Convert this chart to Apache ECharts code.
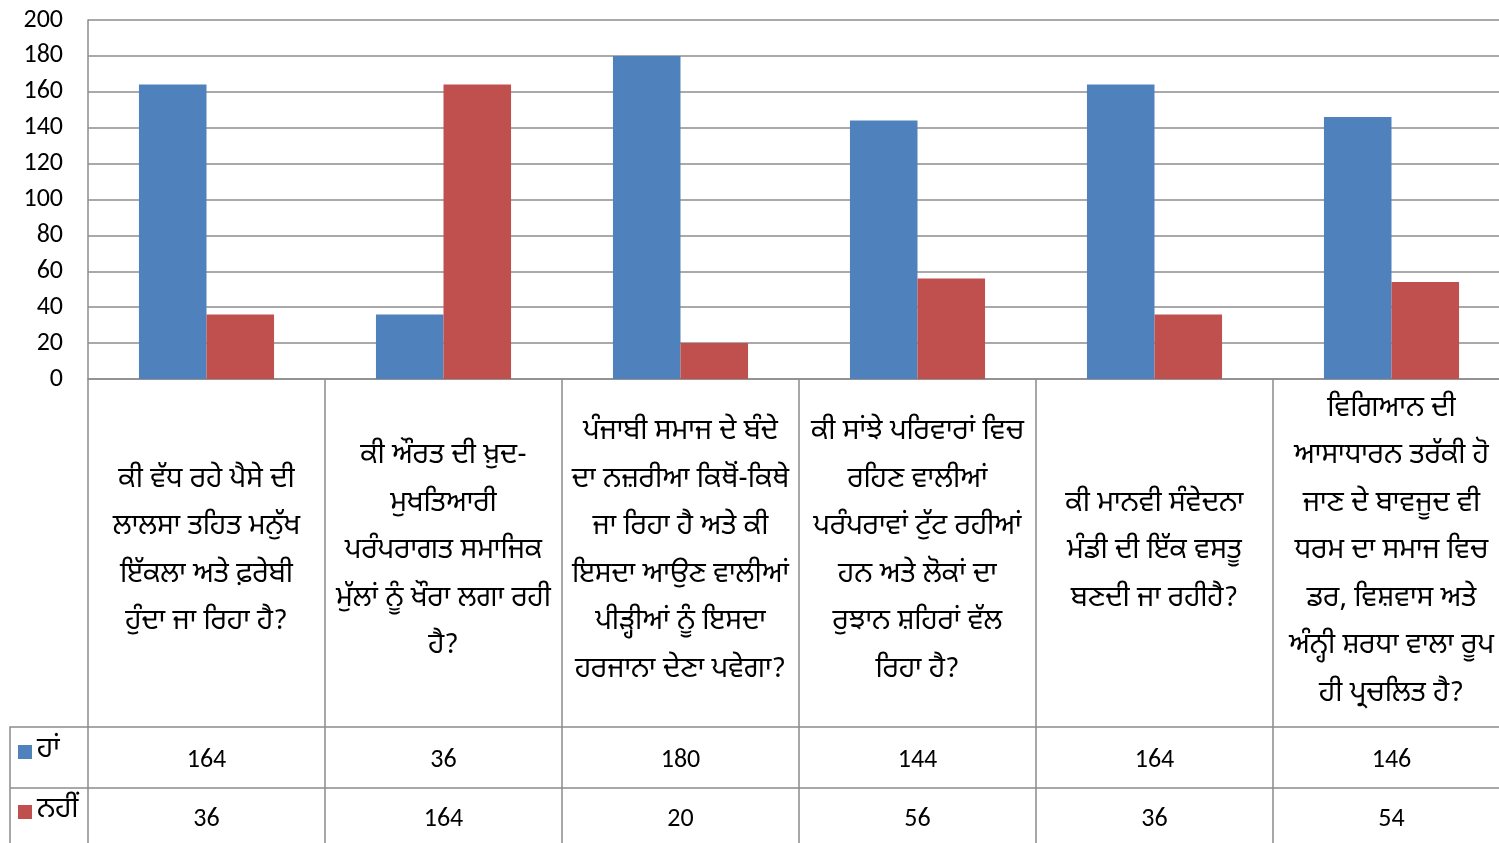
<!DOCTYPE html>
<html>
<head>
<meta charset="utf-8">
<script src="https://cdn.jsdelivr.net/npm/echarts@6/dist/echarts.min.js"></script>
<style>
  html,body{margin:0;padding:0;background:#fff;}
  #chart{width:1499px;height:843px;}
</style>
</head>
<body>
<div id="chart"></div>
<script>
(function(){
  // ===== Dados =====
  const categories = [
    "ਕੀ ਵੱਧ ਰਹੇ ਪੈਸੇ ਦੀ\nਲਾਲਸਾ ਤਹਿਤ ਮਨੁੱਖ\nਇੱਕਲਾ ਅਤੇ ਫ਼ਰੇਬੀ\nਹੁੰਦਾ ਜਾ ਰਿਹਾ ਹੈ?",
    "ਕੀ ਔਰਤ ਦੀ ਖ਼ੁਦ-\nਮੁਖਤਿਆਰੀ\nਪਰੰਪਰਾਗਤ ਸਮਾਜਿਕ\nਮੁੱਲਾਂ ਨੂੰ ਖੌਰਾ ਲਗਾ ਰਹੀ\nਹੈ?",
    "ਪੰਜਾਬੀ ਸਮਾਜ ਦੇ ਬੰਦੇ\nਦਾ ਨਜ਼ਰੀਆ ਕਿਥੋਂ-ਕਿਥੇ\nਜਾ ਰਿਹਾ ਹੈ ਅਤੇ ਕੀ\nਇਸਦਾ ਆਉਣ ਵਾਲੀਆਂ\nਪੀੜ੍ਹੀਆਂ ਨੂੰ ਇਸਦਾ\nਹਰਜਾਨਾ ਦੇਣਾ ਪਵੇਗਾ?",
    "ਕੀ ਸਾਂਝੇ ਪਰਿਵਾਰਾਂ ਵਿਚ\nਰਹਿਣ ਵਾਲੀਆਂ\nਪਰੰਪਰਾਵਾਂ ਟੁੱਟ ਰਹੀਆਂ\nਹਨ ਅਤੇ ਲੋਕਾਂ ਦਾ\nਰੁਝਾਨ ਸ਼ਹਿਰਾਂ ਵੱਲ\nਰਿਹਾ ਹੈ?",
    "ਕੀ ਮਾਨਵੀ ਸੰਵੇਦਨਾ\nਮੰਡੀ ਦੀ ਇੱਕ ਵਸਤੂ\nਬਣਦੀ ਜਾ ਰਹੀਹੈ?",
    "ਵਿਗਿਆਨ ਦੀ\nਆਸਾਧਾਰਨ ਤਰੱਕੀ ਹੋ\nਜਾਣ ਦੇ ਬਾਵਜੂਦ ਵੀ\nਧਰਮ ਦਾ ਸਮਾਜ ਵਿਚ\nਡਰ, ਵਿਸ਼ਵਾਸ ਅਤੇ\nਅੰਨ੍ਹੀ ਸ਼ਰਧਾ ਵਾਲਾ ਰੂਪ\nਹੀ ਪ੍ਰਚਲਿਤ ਹੈ?"
  ];
  const seriesNames = ["ਹਾਂ", "ਨਹੀਂ"];
  const valuesYes = [164, 36, 180, 144, 164, 146];
  const valuesNo  = [36, 164, 20, 56, 36, 54];
  const yTicks = {min:0, max:200, interval:20};

  // ===== Estilo =====
  const LINE = '#8c8c8c';
  const PA = '"Noto Sans Gurmukhi","Raavi","Lohit Gurmukhi","Noto Sans",sans-serif';
  const NUM = '"Carlito","Open Sans",sans-serif';
  const COLORS = ['#4f81bd', '#c0504d'];

  const chart = echarts.init(document.getElementById('chart'), null, {renderer:'canvas'});

  function tableAxis(data, offset, tickLen, fontFamily, fontSize, margin, lineHeight){
    return {
      type:'category', data:data, position:'bottom', offset:offset,
      axisLine:{show:true, lineStyle:{color:LINE, width:1.5}},
      axisTick:{show:true, alignWithLabel:false, interval:0, length:tickLen, lineStyle:{color:LINE, width:1.5}},
      axisLabel:{interval:0, margin:margin, verticalAlign:'middle', align:'center', color:'#000',
        fontFamily:fontFamily, fontSize:fontSize, lineHeight:lineHeight, hideOverlap:false},
      splitLine:{show:false}
    };
  }

  chart.setOption({
    animation:false,
    color:COLORS,
    grid:{left:88, top:20, bottom:464, width:1422, containLabel:false, outerBoundsMode:'none'},
    legend:{
      orient:'vertical', left:13, top:733, itemGap:32,
      icon:'rect', itemWidth:14, itemHeight:14,
      textStyle:{fontFamily:PA, fontSize:28, color:'#000', lineHeight:28},
      data:seriesNames, selectedMode:false
    },
    xAxis:[
      tableAxis(categories, 0, 348, PA, 28, 174, 47.5),
      tableAxis(valuesYes.map(String), 348, 61, NUM, 26, 33, 26),
      tableAxis(valuesNo.map(String), 409, 70, NUM, 26, 31, 26)
    ],
    yAxis:{
      type:'value', min:yTicks.min, max:yTicks.max, interval:yTicks.interval,
      axisLine:{show:true, lineStyle:{color:LINE, width:1.5}},
      axisTick:{show:false},
      axisLabel:{color:'#000', fontFamily:NUM, fontSize:26, margin:25},
      splitLine:{show:true, lineStyle:{color:LINE, width:1.5}}
    },
    series:[
      {name:seriesNames[0], type:'bar', data:valuesYes, barGap:'0%', barCategoryGap:'43%', xAxisIndex:0},
      {name:seriesNames[1], type:'bar', data:valuesNo, barGap:'0%', barCategoryGap:'43%', xAxisIndex:0}
    ],
    graphic:[
      // moldura da coluna de legenda da tabela
      {type:'polyline', silent:true, shape:{points:[[88,727],[10,727],[10,850]]}, style:{stroke:LINE, lineWidth:1.5, fill:null}},
      {type:'line', silent:true, shape:{x1:10, y1:788, x2:88, y2:788}, style:{stroke:LINE, lineWidth:1.5}}
    ]
  });

  window.addEventListener('resize', ()=>chart.resize());
})();
</script>
</body>
</html>
